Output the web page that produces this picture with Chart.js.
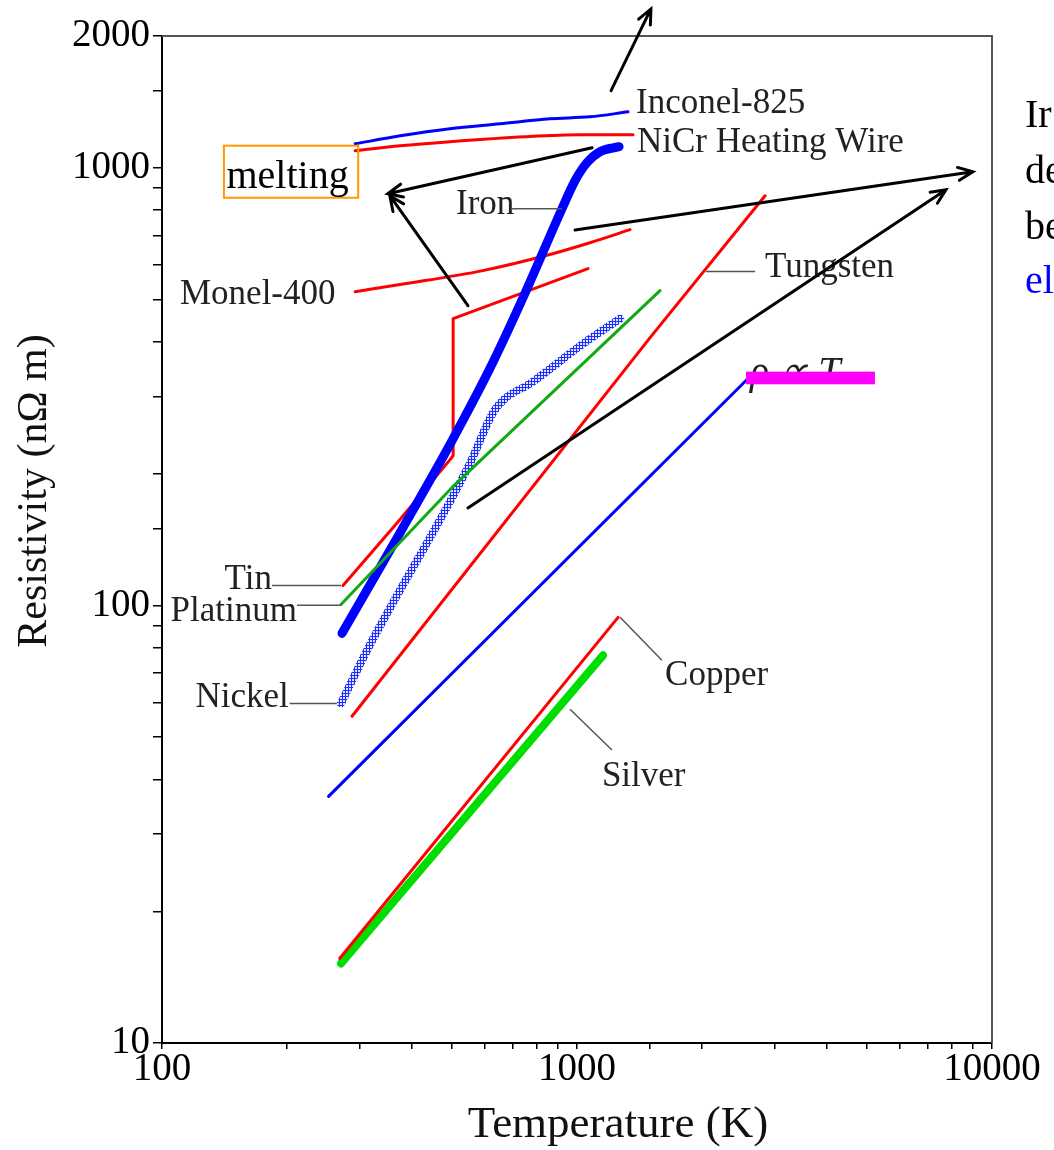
<!DOCTYPE html>
<html><head><meta charset="utf-8">
<script src="https://cdn.jsdelivr.net/npm/chart.js@4.4.1/dist/chart.umd.min.js"></script>
<style>html,body{margin:0;padding:0;background:#fff}canvas{display:block}</style>
</head><body>
<canvas id="c" width="1054" height="1150"></canvas>
<script>
// ---- data (T in K, resistivity in nΩ m) ----
const inconelT = [292, 375, 494, 652, 861, 1074, 1327];
const inconelR = [1134, 1183, 1228, 1260, 1294, 1307, 1342];
const nicrT = [292, 375, 494, 750, 1017, 1365];
const nicrR = [1094, 1123, 1147, 1177, 1189, 1189];
const ironT = [271.5, 375, 500, 617, 749, 920, 989, 1057, 1136, 1263];
const ironR = [86.3, 146.8, 238, 348, 516, 806, 934, 1027, 1088, 1117];
const tinT = [273, 368, 494, 503, 503, 1063];
const tinR = [111, 154, 215, 220, 452, 588];
const monelT = [292, 375, 593, 842, 1074, 1342];
const monelR = [521, 541, 582, 630, 674, 722];
const platinumT = [270, 500, 1585];
const platinumR = [100.5, 186, 524];
const nickelT = [270, 312, 552, 628, 671, 770, 1034, 1270];
const nickelR = [59.7, 78.9, 211, 276, 297, 321, 396, 452];
const tungstenT = [287, 1500, 2839];
const tungstenR = [55.8, 409, 863];
const linearT = [252, 2583];
const linearR = [36.6, 330];
const copperT = [268, 1256];
const copperR = [15.6, 93.9];
const silverT = [270, 1155];
const silverR = [15.2, 76.9];

const xTickLabels = [100, 1000, 10000];
const yTickLabels = [10, 100, 1000, 2000];

// curve labels: [text, T, R, align]
const curveLabels = [
  ['Inconel-825', 1388, 1336, 'left'],
  ['NiCr Heating Wire', 1395, 1088, 'left'],
  ['Iron', 511, 785, 'left'],
  ['Monel-400', 110.5, 489, 'left'],
  ['Tungsten', 2839, 564, 'left'],
  ['Tin', 184, 109, 'right'],
  ['Platinum', 211.5, 91.9, 'right'],
  ['Nickel', 202, 58.5, 'right'],
  ['Copper', 1630, 65.7, 'left'],
  ['Silver', 1148, 38.6, 'left']
];
// leader lines: [T1, R1, T2, R2]
const leaders = [
  [184, 111, 270, 111],
  [211.5, 100, 270, 100],
  [203, 59.7, 264, 59.7],
  [697, 806, 920, 806],
  [2046, 579, 2685, 579],
  [1270, 93.9, 1602, 74.9],
  [962, 57.9, 1214, 46.7]
];
// arrows: [T1, R1, T2(head), R2(head)]
const arrows = [
  [1208, 1500, 1507, 2306],
  [1087, 1111, 350, 872],
  [546, 484, 354, 863],
  [989, 721, 8995, 979],
  [546, 167, 7745, 891]
];
// side text fragments: [text, T, R, color]
const sideText = [
  ['Ir', 12010, 1241, '#000'],
  ['de', 12010, 924, '#000'],
  ['be', 12010, 689, '#000'],
  ['el', 12010, 516, '#0000ff']
];

const pts = (T, R) => T.map((t, i) => ({x: t, y: R[i]}));

// hatched pattern for nickel
const pc = document.createElement('canvas'); pc.width = 3; pc.height = 3;
const pcx = pc.getContext('2d');
pcx.fillStyle = '#dfe3ff'; pcx.fillRect(0, 0, 3, 3);
pcx.fillStyle = '#1a2cff'; pcx.fillRect(0, 0, 3, 1); pcx.fillRect(0, 0, 1, 3);
const nickelPattern = pcx.createPattern(pc, 'repeat');

const SERIF = '"Liberation Serif", "Times New Roman", serif';

function ds(label, T, R, color, width, order, smooth) {
  const d = {label, data: pts(T, R), borderColor: color, borderWidth: width, showLine: true,
    pointRadius: 0, fill: false, tension: 0, borderCapStyle: 'round', borderJoinStyle: 'round', order};
  if (smooth) d.cubicInterpolationMode = 'monotone';
  return d;
}

const annot = {
  id: 'annot',
  afterDraw(chart) {
    const {ctx, scales: {x, y}, chartArea: a} = chart;
    const X = t => x.getPixelForValue(t), Y = v => y.getPixelForValue(v);
    ctx.save();
    // top/right frame
    ctx.strokeStyle = '#555'; ctx.lineWidth = 2;
    ctx.beginPath(); ctx.moveTo(a.left, a.top); ctx.lineTo(a.right, a.top); ctx.lineTo(a.right, a.bottom); ctx.stroke();
    // leaders
    ctx.strokeStyle = '#555'; ctx.lineWidth = 1.5;
    leaders.forEach(l => { ctx.beginPath(); ctx.moveTo(X(l[0]), Y(l[1])); ctx.lineTo(X(l[2]), Y(l[3])); ctx.stroke(); });
    // labels
    ctx.fillStyle = '#222'; ctx.font = '35px ' + SERIF; ctx.textBaseline = 'alphabetic';
    curveLabels.forEach(l => { ctx.textAlign = l[3]; ctx.fillText(l[0], X(l[1]), Y(l[2])); });
    // melting box
    ctx.strokeStyle = '#ff9900'; ctx.lineWidth = 2;
    const bx1 = X(141), bx2 = X(297), by1 = Y(1123), by2 = Y(854);
    ctx.strokeRect(bx1, by1, bx2 - bx1, by2 - by1);
    ctx.fillStyle = '#000'; ctx.font = '40px ' + SERIF; ctx.textAlign = 'left';
    ctx.fillText('melting', X(143), Y(900));
    // rho ∝ T
    ctx.font = 'italic 40px ' + SERIF;
    ctx.fillStyle = '#222';
    ctx.fillText('ρ ∝ T', X(2612), Y(321));
    ctx.fillStyle = '#ff00ff';
    const mx1 = X(2554), mx2 = X(5224), my1 = Y(342), my2 = Y(320);
    ctx.fillRect(mx1, my1, mx2 - mx1, my2 - my1);
    // arrows
    ctx.strokeStyle = '#000'; ctx.lineWidth = 3; ctx.lineCap = 'round';
    arrows.forEach(r => {
      const x1 = X(r[0]), y1 = Y(r[1]), x2 = X(r[2]), y2 = Y(r[3]);
      const ang = Math.atan2(y2 - y1, x2 - x1), L = 16, w = 0.42;
      ctx.beginPath(); ctx.moveTo(x1, y1); ctx.lineTo(x2, y2);
      ctx.moveTo(x2 - L * Math.cos(ang - w), y2 - L * Math.sin(ang - w));
      ctx.lineTo(x2, y2);
      ctx.lineTo(x2 - L * Math.cos(ang + w), y2 - L * Math.sin(ang + w));
      ctx.stroke();
    });
    // side text
    ctx.font = '40px ' + SERIF; ctx.textAlign = 'left';
    sideText.forEach(s => { ctx.fillStyle = s[3]; ctx.fillText(s[0], X(s[1]), Y(s[2])); });
    // axis titles
    ctx.fillStyle = '#111'; ctx.textAlign = 'center'; ctx.textBaseline = 'middle';
    ctx.font = '45px ' + SERIF;
    ctx.fillText('Temperature (K)', 618, 1125);
    ctx.save(); ctx.translate(35, 491); ctx.rotate(-Math.PI / 2);
    ctx.font = '42px ' + SERIF;
    ctx.fillText('Resistivity (nΩ m)', 0, 0);
    ctx.restore();
    ctx.restore();
  }
};

const isLabel = (v, list) => list.some(t => Math.abs(t - v) < 1e-6 * t);

new Chart(document.getElementById('c'), {
  type: 'scatter',
  data: {
    datasets: [
      ds('Inconel-825', inconelT, inconelR, '#0000ff', 3, 5, true),
      ds('NiCr Heating Wire', nicrT, nicrR, '#ff0000', 3, 5, true),
      ds('Monel-400', monelT, monelR, '#ff0000', 3, 4, true),
      ds('Tin', tinT, tinR, '#ff0000', 3, 3, false),
      ds('Iron', ironT, ironR, '#0000ff', 9, 2, true),
      ds('Nickel', nickelT, nickelR, nickelPattern, 8, 6, true),
      ds('Platinum', platinumT, platinumR, '#11aa11', 3, 1, false),
      ds('Tungsten', tungstenT, tungstenR, '#ff0000', 3, 5, false),
      ds('ρ ∝ T', linearT, linearR, '#0000ff', 3, 5, false),
      ds('Silver', silverT, silverR, '#00dd00', 8, 6, false),
      ds('Copper', copperT, copperR, '#ff0000', 3, 5, false)
    ]
  },
  options: {
    responsive: false, animation: false, devicePixelRatio: 1,
    layout: {padding: {top: 36, right: 62, left: 0, bottom: 0}},
    plugins: {legend: {display: false}, tooltip: {enabled: false}},
    scales: {
      x: {
        type: 'logarithmic', min: 100, max: 10000, position: 'bottom',
        afterFit(s) { s.height = 107; },
        grid: {drawOnChartArea: false, drawTicks: true, tickLength: 6, color: '#000', tickColor: '#000', lineWidth: 1.5},
        border: {display: true, color: '#000', width: 2},
        ticks: {autoSkip: false, maxRotation: 0, minRotation: 0, padding: -3, color: '#000',
          font: {family: SERIF, size: 39},
          callback: v => isLabel(v, xTickLabels) ? String(v) : ''}
      },
      y: {
        type: 'logarithmic', min: 10, max: 2000, position: 'left',
        afterFit(s) { s.width = 162; },
        grid: {drawOnChartArea: false, drawTicks: true, tickLength: 9, color: '#000', tickColor: '#000', lineWidth: 1.5},
        border: {display: true, color: '#000', width: 2},
        ticks: {autoSkip: false, padding: 3, color: '#000',
          font: {family: SERIF, size: 39},
          callback: v => isLabel(v, yTickLabels) ? String(v) : ''}
      }
    }
  },
  plugins: [annot]
});
</script>
</body></html>
